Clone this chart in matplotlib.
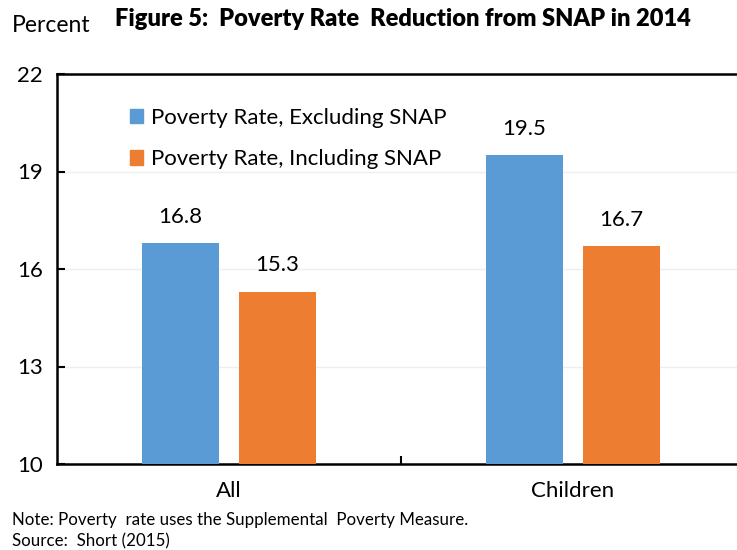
import matplotlib.pyplot as plt
import matplotlib.patches as mpatches

# ── DATOS ───────────────────────────────────────────────
categorias   = ['All', 'Children']
excl_snap    = [16.8, 19.5]
incl_snap    = [15.3, 16.7]
serie_labels = ['Poverty Rate, Excluding SNAP', 'Poverty Rate, Including SNAP']
y_ticks      = [10, 13, 16, 19, 22]

AZUL    = '#5B9BD5'
NARANJA = '#ED7D31'

plt.rcParams['font.family'] = ['Lato', 'DejaVu Sans']

fig = plt.figure(figsize=(7.37, 5.5), dpi=100)
# el eje se sale un poco por la derecha, como en el original
ax = fig.add_axes([56.5 / 737, 1 - 464 / 550, (745 - 56.5) / 737, 390 / 550])

x = [0.5, 1.5]
ancho = 0.224
off = 0.141
barras1 = ax.bar([p - off for p in x], excl_snap, width=ancho, color=AZUL, zorder=3)
barras2 = ax.bar([p + off for p in x], incl_snap, width=ancho, color=NARANJA, zorder=3)

for b, v in zip(list(barras1) + list(barras2), excl_snap + incl_snap):
    ax.text(b.get_x() + b.get_width() / 2, v + 0.5, f'{v:.1f}',
            ha='center', va='bottom', fontsize=16)

ax.set_ylim(10, 22)
ax.set_xlim(0, 2)
ax.set_yticks(y_ticks)
ax.set_yticklabels([str(t) for t in y_ticks], fontsize=16)
ax.set_xticks([1.0])
ax.set_xticklabels([''])
ax.tick_params(axis='both', direction='in', length=6, width=1.5)
ax.tick_params(axis='y', pad=10)
ax.grid(axis='y', color='#eeeeee', linewidth=1, zorder=0)

for s in ax.spines.values():
    s.set_linewidth(1.8)

for p, c in zip(x, categorias):
    ax.text(p, 9.18, c, ha='center', va='center', fontsize=16)

# leyenda manual
handles = [mpatches.Patch(color=AZUL, label=serie_labels[0]),
           mpatches.Patch(color=NARANJA, label=serie_labels[1])]
ax.legend(handles=handles, loc='upper left', bbox_to_anchor=(0.094, 0.935),
          frameon=False, fontsize=16, handlelength=0.6, handleheight=0.6,
          handletextpad=0.35, labelspacing=0.95, borderaxespad=0)

fig.text(403 / 737, 1 - 19 / 550, 'Figure 5:  Poverty Rate  Reduction from SNAP in 2014',
         ha='center', va='center', fontsize=17, fontweight='heavy')
fig.text(12 / 737, 1 - 26 / 550, 'Percent', ha='left', va='center', fontsize=16.5,
         fontstretch='expanded')
fig.text(12 / 737, 1 - 520 / 550, 'Note: Poverty  rate uses the Supplemental  Poverty Measure.',
         ha='left', va='center', fontsize=12.2)
fig.text(12 / 737, 1 - 541 / 550, 'Source:  Short (2015)', ha='left', va='center', fontsize=12.2)

fig.savefig('out.png', dpi=100)
